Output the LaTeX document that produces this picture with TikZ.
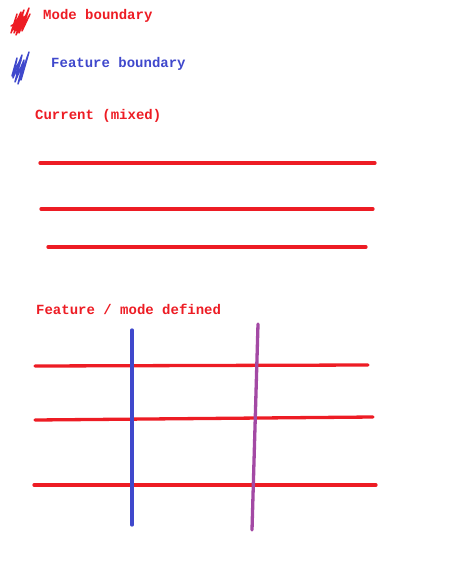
\documentclass[tikz,border=0pt]{standalone}
\usepackage{fontspec}
\setmonofont{Liberation Mono}
\usetikzlibrary{positioning}

\definecolor{modered}{RGB}{237,28,36}
\definecolor{featblue}{RGB}{63,72,204}
\definecolor{mixpurple}{RGB}{163,73,164}

\tikzset{
    lbl/.style={anchor=west, inner sep=0pt, font=\ttfamily\bfseries\fontsize{14bp}{16bp}\selectfont},
    modeline/.style={draw=modered, line width=3.3bp, line cap=round},
    featline/.style={draw=featblue, line width=3.3bp, line cap=round},
    mixline/.style={draw=mixpurple, line width=3.3bp, line cap=round},
    scrib/.style={line width=1.5bp, line join=round, line cap=round}
}

\begin{document}
\begin{tikzpicture}[x=1bp, y=-1bp]
        \useasboundingbox (0,0) rectangle (449,587);

        % legend
        \draw[scrib, modered] (11,33) -- (17,14) -- (12,31) -- (21,12) -- (14,33) -- (24,10) -- (16,35)
            -- (26,15) -- (19,33) -- (29,8) -- (22,31) -- (30,14);
        \draw[scrib, modered, line width=3bp] (14,29) -- (22,15) -- (16,30) -- (25,17) -- (19,29);
        \draw[scrib, modered] (11,26) -- (27,17);
        \node[lbl, text=modered] (legmode) at (43,16) {Mode boundary};

        \draw[scrib, featblue] (12,76) -- (17,58) -- (13,78) -- (22,55) -- (15,82) -- (24,60)
            -- (18,84) -- (29,52) -- (21,80);
        \draw[scrib, featblue] (14,70) -- (21,60) -- (16,74) -- (25,64);
        \node[lbl, text=featblue] (legfeat) at (51,64) {Feature boundary};

        % current (mixed)
        \node[lbl, text=modered] (curttl) at (35,116) {Current (mixed)};
        \coordinate (c1a) at (40,163);  \coordinate (c1b) at (375,163);
        \coordinate (c2a) at (41,209);  \coordinate (c2b) at (373,209);
        \coordinate (c3a) at (48,247);  \coordinate (c3b) at (366,247);
        \draw[modeline] (c1a) -- (c1b);
        \draw[modeline] (c2a) -- (c2b);
        \draw[modeline] (c3a) -- (c3b);

        % feature / mode defined
        \node[lbl, text=modered] (defttl) at (36,309) {Feature / mode defined};
        \coordinate (d1a) at (35,366);  \coordinate (d1b) at (368,365);
        \coordinate (d2a) at (35,420);  \coordinate (d2b) at (373,417);
        \coordinate (d3a) at (34,485);  \coordinate (d3b) at (376,485);
        \draw[modeline] (d1a) -- (d1b);
        \draw[modeline] (d2a) -- (d2b);
        \draw[modeline] (d3a) -- (d3b);

        \coordinate (fta) at (132,330);  \coordinate (ftb) at (132,525);
        \draw[featline] (fta) -- (ftb);
        \coordinate (mxa) at (258,324);  \coordinate (mxb) at (252,530);
        \draw[mixline] (mxa) -- (mxb);
    \end{tikzpicture}
\end{document}
